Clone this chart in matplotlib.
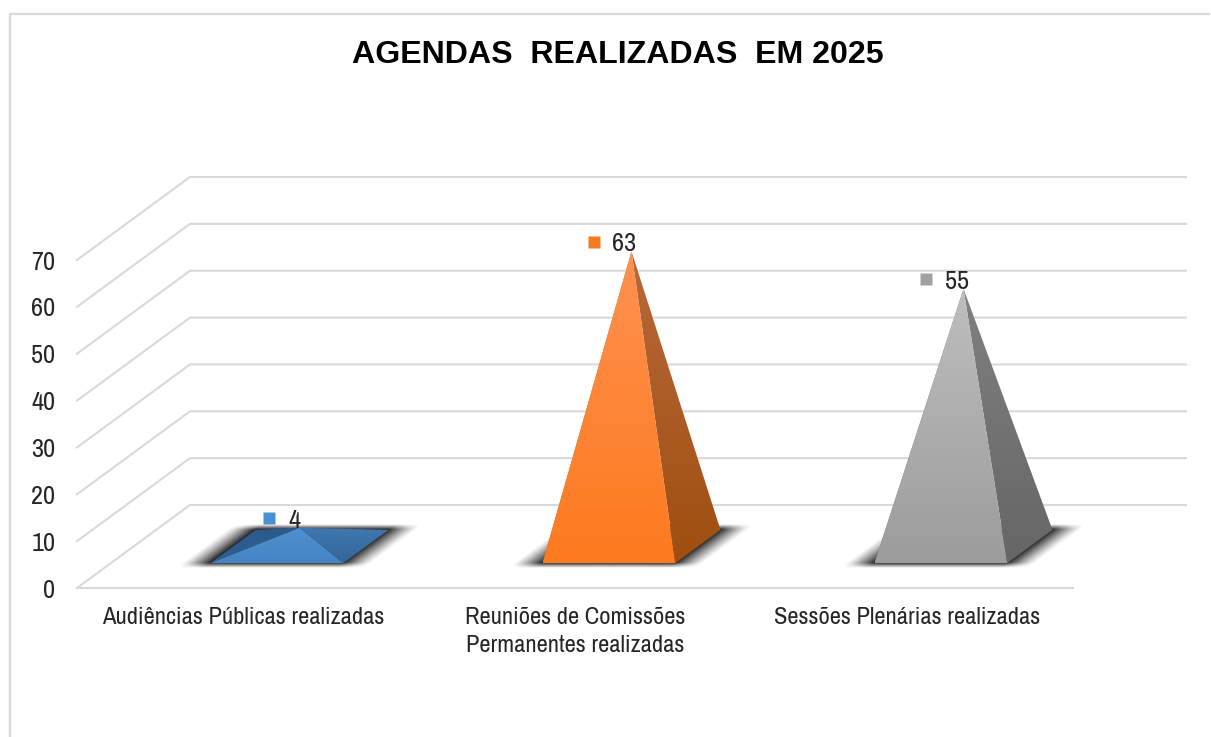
import numpy as np
import matplotlib
matplotlib.use("Agg")
import matplotlib.pyplot as plt
from matplotlib.colors import to_rgb
from matplotlib.lines import Line2D
from matplotlib.patches import Polygon
from matplotlib.transforms import offset_copy

categories = ["Audiências Públicas realizadas",
              "Reuniões de Comissões\nPermanentes realizadas",
              "Sessões Plenárias realizadas"]
values = [4, 63, 55]
yticks = [0, 10, 20, 30, 40, 50, 60, 70]
title = "AGENDAS  REALIZADAS  EM 2025"

marker_colors = ["#4A8FD0", "#F57A21", "#A0A0A0"]
front_colors = [("#5090D0", "#4484C2"), ("#FF9150", "#FD7A1F"), ("#BEBEBE", "#9C9C9C")]
right_colors = [("#4078B0", "#336699"), ("#B8693A", "#A04E10"), ("#808080", "#666666")]
left_colors = [("#2C5A8C", "#2F5F92"), ("#B8693A", "#A04E10"), ("#808080", "#666666")]

W, H = 1211, 737
GRID = "#D9D9D9"
FONT = ["Archivo Narrow", "Liberation Sans"]
plt.rcParams["font.family"] = FONT

# front plane of the fake 3D box, in pixels
LEFT, RIGHT, BOTTOM, TOP = 77, 1073, 588, 260
# how far the back wall is shifted from the front plane
DX = 113 / ((RIGHT - LEFT) / 3)
DY = 83 / ((BOTTOM - TOP) / 70)


def project(c, depth, v):
    return c + depth * DX, v + depth * DY


def gradient_face(ax, pts, colors, z):
    pts = np.array(pts)
    top, bottom = np.array(to_rgb(colors[0])), np.array(to_rgb(colors[1]))
    t = np.linspace(0, 1, 128)[:, None]
    img = (top * (1 - t) + bottom * t)[:, None, :]
    poly = Polygon(pts, closed=True, transform=ax.transData, fc="none", ec="none")
    ax.add_patch(poly)
    poly.set_clip_on(False)
    im = ax.imshow(img, aspect="auto", zorder=z, interpolation="bilinear",
                   extent=(pts[:, 0].min(), pts[:, 0].max(), pts[:, 1].min(), pts[:, 1].max()))
    im.set_clip_path(poly)
    im.set_clip_box(fig.bbox)


def soft_shadow(ax, fl, fr, br, bl, z):
    # blurred dark parallelogram, wider sideways than up and down
    sx, sy = 0.085, 1.1
    xs = np.linspace(fl[0] - sx, br[0] + sx, 300)
    ys = np.linspace(fl[1] - sy, br[1] + sy, 100)
    xx, yy = np.meshgrid(xs, ys)
    s = (yy - fl[1]) / (bl[1] - fl[1])
    x_l = fl[0] + s * (bl[0] - fl[0])
    x_r = fr[0] + s * (br[0] - fr[0])
    du = np.clip(np.maximum(x_l - xx, xx - x_r) / sx, 0, 1)
    dv = np.clip(np.maximum(fl[1] - yy, yy - bl[1]) / sy, 0, 1)
    img = np.zeros(xx.shape + (4,))
    img[..., 3] = 0.85 * (1 - du) ** 1.2 * (1 - dv)
    im = ax.imshow(img, aspect="auto", origin="lower", zorder=z, interpolation="bilinear",
                   extent=(xs[0], xs[-1], ys[0], ys[-1]))
    im.set_clip_box(fig.bbox)


fig = plt.figure(figsize=(W / 100, H / 100), dpi=100)
ax = fig.add_axes([LEFT / W, 1 - BOTTOM / H, (RIGHT - LEFT) / W, (BOTTOM - TOP) / H])

# chart border
fig.add_artist(Line2D([9.5 / W, 9.5 / W, 1 - 2 / W], [0, 1 - 13.5 / H, 1 - 13.5 / H],
                      color=GRID, lw=1.6, transform=fig.transFigure))

# walls
for v in yticks:
    x0, y0 = project(0, 0, v)
    x1, y1 = project(0, 1, v)
    x2, y2 = project(3, 1, v)
    ax.plot([x0, x1, x2], [y0, y1, y2], color=GRID, lw=1.5, clip_on=False, zorder=1)
ax.plot([0, 3], [0, 0], color=GRID, lw=1.5, clip_on=False, zorder=1)

for i, (v, color) in enumerate(zip(values, marker_colors)):
    c = i + 0.5
    fl = project(c - 0.2, 0.3, 0)
    fr = project(c + 0.2, 0.3, 0)
    br = project(c + 0.2, 0.7, 0)
    bl = project(c - 0.2, 0.7, 0)
    apex = project(c, 0.5, v)

    soft_shadow(ax, fl, fr, br, bl, 2)
    gradient_face(ax, [fl, bl, apex], left_colors[i], 3)
    gradient_face(ax, [fr, br, apex], right_colors[i], 4)
    gradient_face(ax, [fl, fr, apex], front_colors[i], 5)

    # value label with its legend key
    n = len(str(v))
    ax.annotate(str(v), xy=apex, xytext=((4 * n - 3) * 0.72, 5.5), textcoords="offset points",
                ha="right", va="center", fontsize=19, color="#262626", zorder=7,
                annotation_clip=False)
    key = offset_copy(ax.transData, fig=fig, x=-(23 + 7.5 * n) * 0.72, y=7, units="points")
    ax.plot([apex[0]], [apex[1]], marker="s", ms=8, mec="none", color=color,
            transform=key, clip_on=False, zorder=7)

ax.set_xlim(0, 3)
ax.set_ylim(0, 70)
ax.patch.set_visible(False)
for s in ax.spines.values():
    s.set_visible(False)
ax.set_yticks(yticks)
ax.set_xticks([0.5, 1.5, 2.5])
ax.set_xticklabels(categories)
ax.tick_params(axis="y", length=0, pad=15.5, labelsize=19, labelcolor="#262626")
ax.tick_params(axis="x", length=0, pad=13.5, labelsize=17.7, labelcolor="#262626")
for lab in ax.get_xticklabels():
    lab.set_linespacing(1.42)

fig.text(617.5 / W, 1 - 55 / H, title, ha="center", va="center", fontsize=23.1,
         fontweight="bold", family="Liberation Sans", color="black")

fig.savefig("out.png", dpi=100)
